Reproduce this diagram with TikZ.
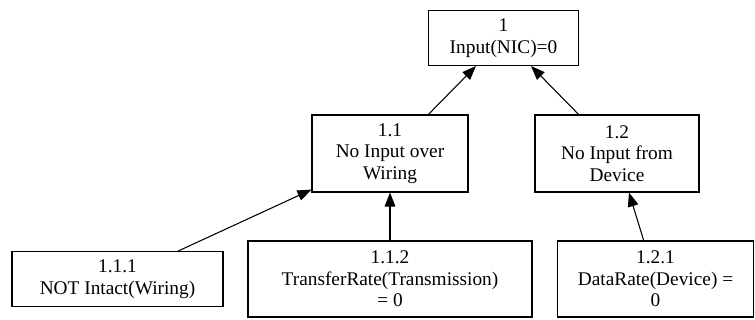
\documentclass[tikz,border=0pt]{standalone}
\usepackage{fontspec}
\setmainfont{Liberation Serif}
\usepackage{tikz}
\usetikzlibrary{arrows.meta}
\usetikzlibrary{positioning}
\tikzset{
  goalnode/.style = {draw=black, rectangle, align=center, inner sep=0pt,
    font=\fontsize{14.5}{16.2}\selectfont, line width=0.8pt},
  goal/.style = {goalnode, minimum width=#1*0.75pt},% box width in px
}

\begin{document}
\begin{tikzpicture}[x=0.75pt,y=-0.75pt,>={Triangle[length=10.5pt,width=8pt]},
  every edge/.style={draw, ->, line width=0.8pt}]
\useasboundingbox (0,0) rectangle (755,320);
% top goal
\node [goal=150, minimum height=55*0.75pt] (g1) at (503.5,38) {1\\Input(NIC)=0};
% second level
\node [goal=156, minimum height=77*0.75pt] (g11) at (390,153.5) {1.1\\No Input over\\Wiring};
\node [goal=164, minimum height=77*0.75pt] (g12) at (617,153.5) {1.2\\No Input from\\Device};
% leaves
\node [goal=211, minimum height=55*0.75pt] (g111) at (117.5,279) {1.1.1\\NOT Intact(Wiring)};
\node [goal=284, minimum height=76*0.75pt] (g112) at (390,279) {1.1.2\\TransferRate(Transmission)\\= 0};
\node [goal=196, minimum height=76*0.75pt] (g121) at (655.5,279) {1.2.1\\DataRate(Device) =\\0};

\draw (g11) edge (g1)
      (g12) edge (g1)
      (g111) edge (g11)
      (g112) edge (g11)
      (g121) edge (g12);
\end{tikzpicture}
\end{document}
